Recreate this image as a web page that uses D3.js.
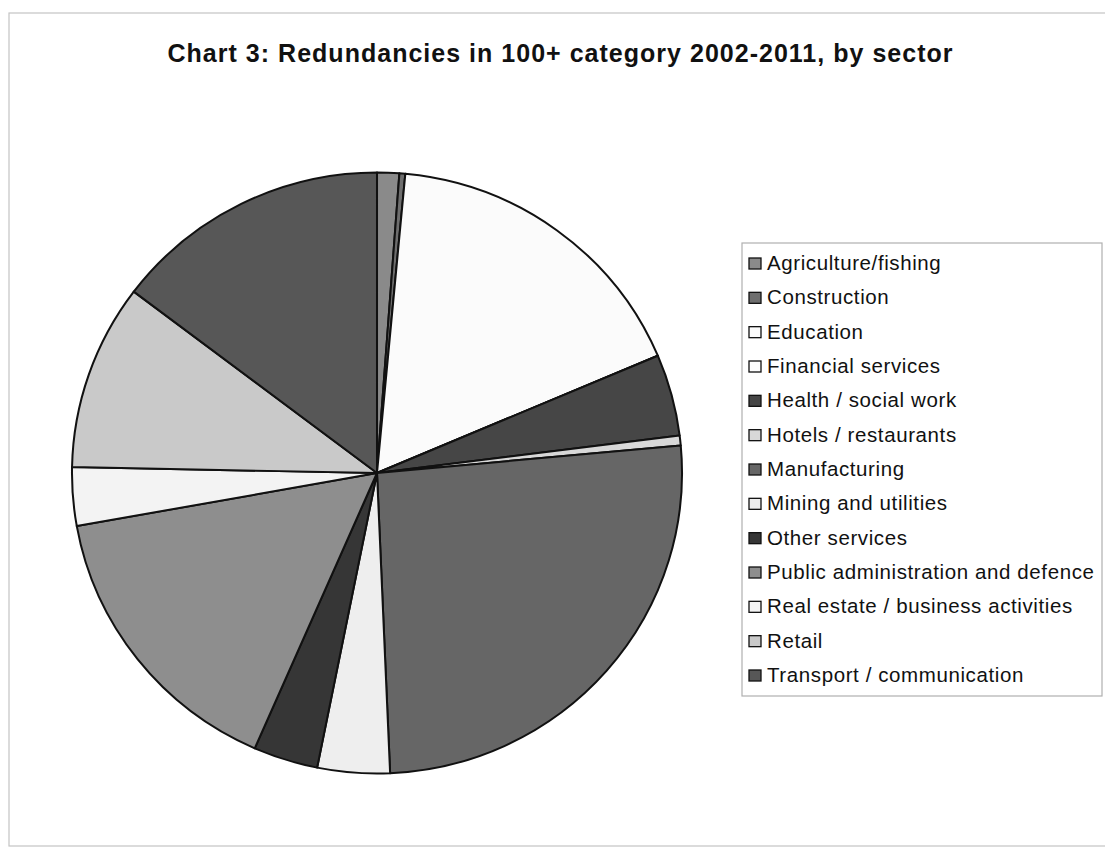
<!DOCTYPE html>
<html>
<head>
<meta charset="utf-8">
<script src="https://cdn.jsdelivr.net/npm/d3@7"></script>
<style>
  html, body { margin: 0; padding: 0; background: #fff; }
  svg { display: block; }
</style>
</head>
<body>
<svg id="chart" width="1105" height="853"></svg>
<script>
const title = "Chart 3: Redundancies in 100+ category 2002-2011, by sector";
const categories = [
  "Agriculture/fishing",
  "Construction",
  "Education",
  "Financial services",
  "Health / social work",
  "Hotels / restaurants",
  "Manufacturing",
  "Mining and utilities",
  "Other services",
  "Public administration and defence",
  "Real estate / business activities",
  "Retail",
  "Transport / communication"
];
// share of redundancies (%)
const values = [1.17, 0.31, 17.14, 0.0, 4.39, 0.53, 25.78, 3.83, 3.42, 15.61, 3.14, 10.0, 14.69];
const colors = ["#8a8a8a", "#6e6e6e", "#fbfbfb", "#fdfdfd", "#464646", "#d8d8d8", "#666666",
                "#eeeeee", "#363636", "#8e8e8e", "#f3f3f3", "#c9c9c9", "#575757"];

const svg = d3.select("#chart");

// outer chart frame
svg.append("rect")
  .attr("x", 9).attr("y", 13).attr("width", 1100).attr("height", 833)
  .attr("fill", "none").attr("stroke", "#c4c4c4").attr("stroke-width", 1.2);

// title
svg.append("text")
  .attr("x", 560).attr("y", 62)
  .attr("text-anchor", "middle")
  .attr("font-family", "Liberation Sans, Arial, sans-serif")
  .attr("font-weight", "bold")
  .attr("font-size", 25)
  .attr("textLength", 785)
  .attr("lengthAdjust", "spacing")
  .attr("fill", "#111")
  .text(title);

// pie
const cx = 377, cy = 473, R = 302;
const data = categories.map((c, i) => ({ name: c, value: values[i], color: colors[i] }));
const pie = d3.pie().sort(null).value(d => d.value);
const arc = d3.arc().innerRadius(0).outerRadius(R);

const g = svg.append("g").attr("transform", `translate(${cx},${cy}) scale(1.01,0.995)`);
g.selectAll("path")
  .data(pie(data))
  .join("path")
  .attr("d", arc)
  .attr("fill", d => d.data.color)
  .attr("stroke", "#111")
  .attr("stroke-width", 2)
  .attr("stroke-linejoin", "round");

// legend
const lx = 742, ly = 243, lw = 360, lh = 453;
const legend = svg.append("g");
legend.append("rect")
  .attr("x", lx).attr("y", ly).attr("width", lw).attr("height", lh)
  .attr("fill", "#fff").attr("stroke", "#b0b0b0").attr("stroke-width", 1.2);

const rowY = d3.scaleLinear().domain([0, categories.length - 1]).range([270, 682]);
const items = legend.selectAll("g.item")
  .data(data)
  .join("g").attr("class", "item")
  .attr("transform", (d, i) => `translate(0,${rowY(i)})`);
items.append("rect")
  .attr("x", 749).attr("y", -12).attr("width", 12).attr("height", 11)
  .attr("fill", d => d.color).attr("stroke", "#111").attr("stroke-width", 1.3);
items.append("text")
  .attr("x", 767).attr("y", 0)
  .attr("font-family", "Liberation Sans, Arial, sans-serif")
  .attr("font-size", 20.5)
  .attr("letter-spacing", 0.6)
  .attr("fill", "#111")
  .text(d => d.name);
</script>
</body>
</html>
